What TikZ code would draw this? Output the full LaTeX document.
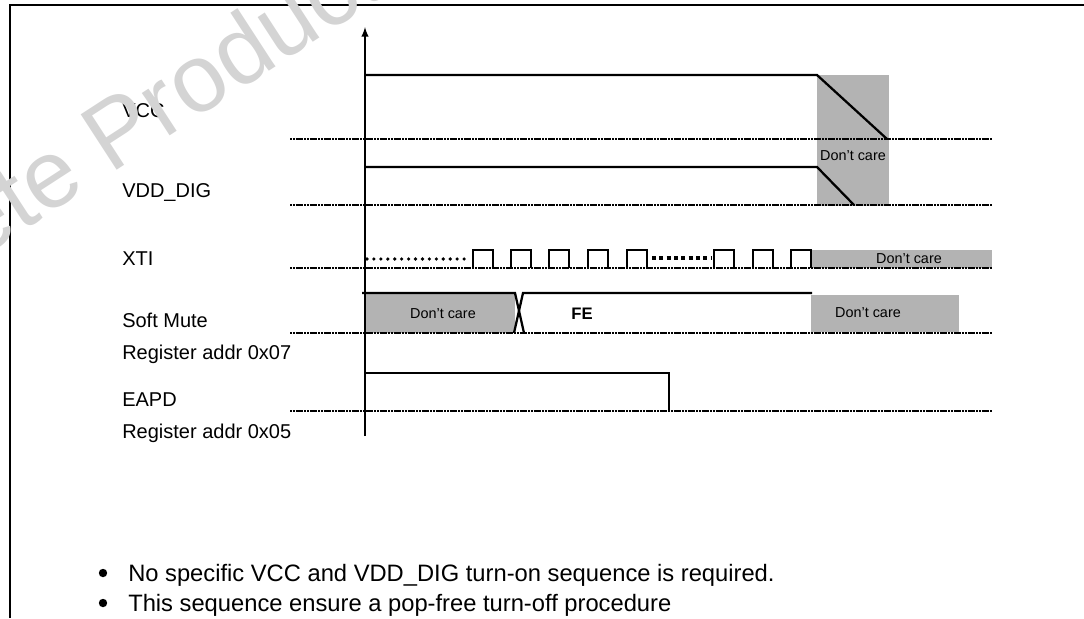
\documentclass[tikz,border=0pt]{standalone}
\usepackage{fontspec}
\setmainfont{Liberation Sans}
\usetikzlibrary{arrows}
\definecolor{dcgray}{RGB}{179,179,179}
\definecolor{markgray}{RGB}{212,212,212}

\begin{document}
\begin{tikzpicture}[x=0.75pt,y=-0.75pt]
	\tikzstyle{signal} = [black, line width=1.7pt]
	\tikzstyle{level} = [black, line width=1pt, dash pattern=on 1.6pt off 0.5pt]
	\tikzstyle{dontcare} = [fill=dcgray, draw=none]
	\tikzstyle{lbl} = [anchor=base west, inner sep=0pt, font=\fontsize{15}{18}\selectfont]
	\tikzstyle{note} = [anchor=base west, inner sep=0pt, font=\fontsize{17.8}{21}\selectfont]
	\tikzstyle{small} = [inner sep=0pt, font=\fontsize{10.8}{12}\selectfont]

	\useasboundingbox (0,0) rectangle (1084,618);

	% frame
	\draw[line width=1.5pt] (10,618) -- (10,5) -- (1084,5);

	% grey areas
	\fill[dontcare] (817,75) rectangle (889,206);
	\fill[dontcare] (812,250) rectangle (992,268);
	\fill[dontcare] (365,294) rectangle (515,333);
	\fill[dontcare] (811,295) rectangle (959,332);

	% zero levels
	\foreach \y in {139,205,268,333,411}
		\draw[level] (290,\y) -- (992,\y);

	% time axis
	\draw[-latex, line width=1.5pt] (365,436) -- (365,27);

	% VCC and VDD_DIG
	\draw[signal] (365,75) -- (817,75) -- (887,139);
	\draw[signal] (365,167) -- (817,167) -- (854,205);

	% XTI
	\draw[black, line width=2.7pt, line cap=round, dash pattern=on 0pt off 5.2pt] (367,259) -- (468,259);
	\draw[black, line width=3pt, dash pattern=on 3pt off 2.5pt] (652,258) -- (711,258);
	\foreach \p in {473,511,549,588,627,714,753,791}
		\draw[signal, line width=1.5pt] (\p,268) -- (\p,250) -- (\p+20,250) -- (\p+20,268);

	% Soft Mute
	\draw[signal] (362,293) -- (515,293) -- (524,333);
	\draw[signal] (514,333) -- (523,293) -- (812,293);

	% EAPD
	\draw[signal] (365,373) -- (669,373) -- (669,411);

	% labels
	\node[lbl] (vcc) at (122,117) {VCC};
	\node[lbl] (vdd) at (122,197) {VDD\_DIG};
	\node[lbl] (xti) at (122,265) {XTI};
	\node[lbl] (mute) at (122,327) {Soft Mute};
	\node[lbl] (mutereg) at (122,359) {Register addr 0x07};
	\node[lbl] (eapd) at (122,406) {EAPD};
	\node[lbl] (eapdreg) at (122,438) {Register addr 0x05};

	\node[small] (dcvcc) at (853,156) {Don’t care};
	\node[small] (dcxti) at (909,259) {Don’t care};
	\node[small] (dcmute) at (443,314) {Don’t care};
	\node[small] (dcoff) at (868,313) {Don’t care};
	\node[inner sep=0pt, font=\fontsize{12.5}{14}\selectfont\bfseries] (fe) at (582,314) {FE};

	% notes
	\fill (103,573) circle (4.2);
	\fill (103,603) circle (4.2);
	\node[note] (noteone) at (128,581) {No specific VCC and VDD\_DIG turn-on sequence is required.};
	\node[note] (notetwo) at (128,611) {This sequence ensure a pop-free turn-off procedure};

	% watermark
	\node[rotate=33, anchor=base west, inner sep=0pt, text=markgray, font=\fontsize{72}{72}\selectfont] (mark) at (-234,398) {Obsolete Product(s)};
\end{tikzpicture}
\end{document}
